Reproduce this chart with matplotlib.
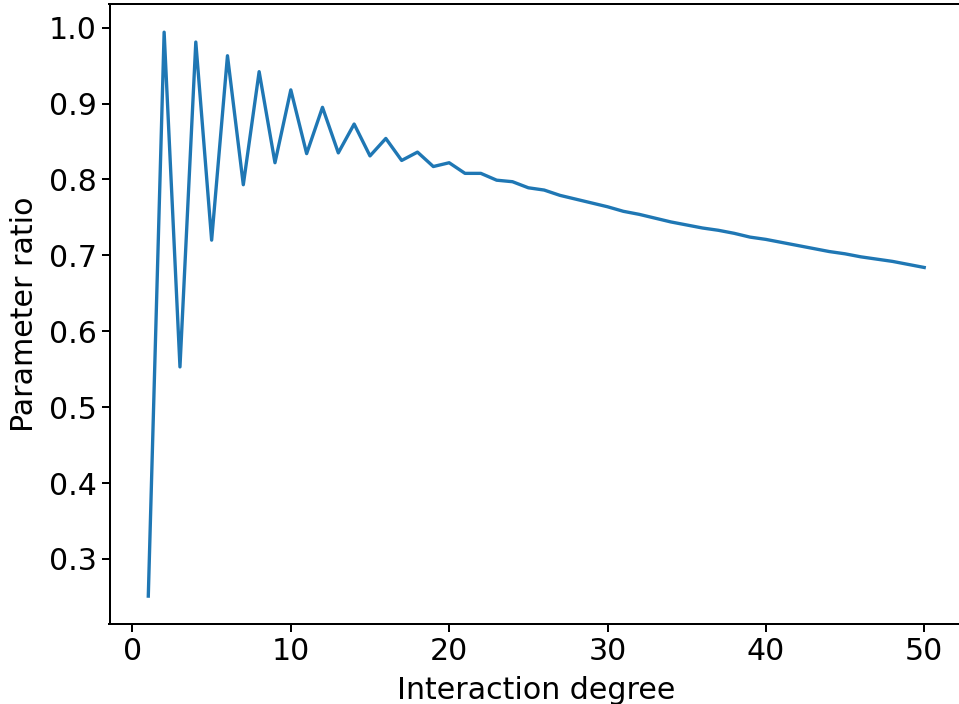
import matplotlib
matplotlib.use("Agg")
import matplotlib.pyplot as plt

# interaction degree 1..50 and the parameter ratio
degree = list(range(1, 51))
ratio = [0.251, 0.994, 0.553, 0.981, 0.720, 0.963, 0.793, 0.942, 0.822, 0.918,
         0.834, 0.895, 0.835, 0.873, 0.831, 0.854, 0.825, 0.836, 0.817, 0.822,
         0.808, 0.808, 0.799, 0.797, 0.789, 0.786, 0.779, 0.774, 0.769, 0.764,
         0.758, 0.754, 0.749, 0.744, 0.740, 0.736, 0.733, 0.729, 0.724, 0.721,
         0.717, 0.713, 0.709, 0.705, 0.702, 0.698, 0.695, 0.692, 0.688, 0.684]

SCALE = 1.8  # points scale to mimic the higher-dpi original

fig = plt.figure(figsize=(9.59, 7.04), dpi=100)
# right edge of the axes lies just past the figure, as in the reference
ax = fig.add_axes([109.5/959, (704-624.3)/704, 853.5/959, 620.3/704])
ax.plot(degree, ratio, color="#1f77b4", lw=2.4)

ax.set_xlabel("Interaction degree", fontsize=12*SCALE, labelpad=4*SCALE)
ax.set_ylabel("Parameter ratio", fontsize=12*SCALE, labelpad=4*SCALE)
ax.tick_params(labelsize=12*SCALE, length=5.8, width=0.8*SCALE, pad=3.5)
for sp in ax.spines.values():
    sp.set_linewidth(0.8*SCALE)
ax.spines["right"].set_visible(False)  # cropped off in the original

fig.savefig("out.png", dpi=100)
